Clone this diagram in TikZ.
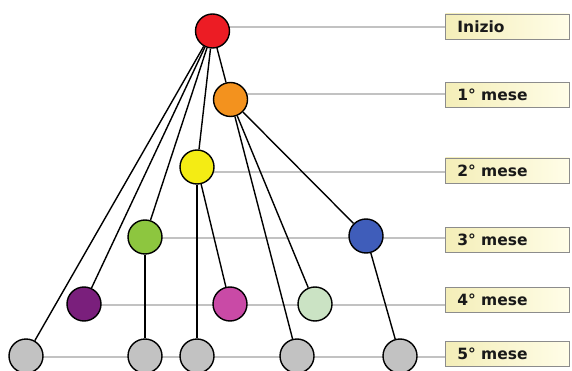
\documentclass[tikz,border=0pt]{standalone}
\usepackage{fontspec}
\newfontfamily\labfont{DejaVu Sans}
\pgfdeclarelayer{bg}
\pgfsetlayers{bg,main}
\definecolor{cRed}{HTML}{EC1C24}
\definecolor{cOrange}{HTML}{F3921E}
\definecolor{cYellow}{HTML}{F4EC14}
\definecolor{cGreen}{HTML}{8DC63F}
\definecolor{cBlue}{HTML}{3F5DBA}
\definecolor{cPurple}{HTML}{7A1F7C}
\definecolor{cMagenta}{HTML}{C94AA6}
\definecolor{cLight}{HTML}{CBE3C4}
\definecolor{cGrey}{HTML}{C2C2C2}
\definecolor{boxL}{HTML}{F4EEB8}
\definecolor{boxR}{HTML}{FFFDE8}
\tikzset{
  dot/.style={circle,draw=black,line width=1.4pt,minimum size=34pt,inner sep=0pt},
  edge/.style={draw=black,line width=1.4pt},
  level/.style={draw=black!24,line width=1.1pt},
  lab/.style={rectangle,draw=black!45,line width=0.9pt,left color=boxL,right color=boxR,
    anchor=west,minimum width=124pt,minimum height=25pt,text width=100pt,inner xsep=12pt,
    inner ysep=0pt,align=left,font=\labfont\bfseries\fontsize{15.5}{17}\selectfont,text=black!90}
}
\begin{document}
\begin{tikzpicture}[x=1pt,y=-1pt]
\useasboundingbox (0,0) rectangle (572,371);
% nodes
\node[dot,fill=cRed] (r) at (212.5,31) {};
\node[dot,fill=cOrange] (o) at (230.5,99.5) {};
\node[dot,fill=cYellow] (y) at (197,167) {};
\node[dot,fill=cGreen] (g) at (145,237) {};
\node[dot,fill=cBlue] (b) at (366,236) {};
\node[dot,fill=cPurple] (p) at (84,304) {};
\node[dot,fill=cMagenta] (m) at (230,304) {};
\node[dot,fill=cLight] (lg) at (315,304) {};
\node[dot,fill=cGrey] (s1) at (26,356) {};
\node[dot,fill=cGrey] (s2) at (145,356) {};
\node[dot,fill=cGrey] (s3) at (197,356) {};
\node[dot,fill=cGrey] (s4) at (297,356) {};
\node[dot,fill=cGrey] (s5) at (400,356) {};
% labels
\node[lab] (l0) at (445,26.5) {Inizio};
\node[lab] (l1) at (445,95) {1° mese};
\node[lab] (l2) at (445,170.5) {2° mese};
\node[lab] (l3) at (445,240) {3° mese};
\node[lab] (l4) at (445,300) {4° mese};
\node[lab] (l5) at (445,353.5) {5° mese};
% level line anchors
\coordinate (h0) at (445,27);
\coordinate (h1) at (445,94);
\coordinate (h2) at (445,172);
\coordinate (h3) at (445,238);
\coordinate (h4) at (445,305);
\coordinate (h5) at (445,357);
\begin{pgfonlayer}{bg}
\draw[level] (h0) -- (h0 -| r);
\draw[level] (h1) -- (h1 -| o);
\draw[level] (h2) -- (h2 -| y);
\draw[level] (h3) -- (h3 -| g);
\draw[level] (h4) -- (h4 -| p);
\draw[level] (h5) -- (h5 -| s1);
\end{pgfonlayer}
% connectors
\draw[edge] (r) -- (o);
\draw[edge] (r) -- (y);
\draw[edge] (r) -- (g);
\draw[edge] (r) -- (p);
\draw[edge] (r) -- (s1);
\draw[edge] (y) -- (m);
\draw[edge] (y) -- (s3);
\draw[edge] (g) -- (s2);
\draw[edge] (o) -- (lg);
\draw[edge] (o) -- (s4);
\draw[edge] (o) -- (b);
\draw[edge] (b) -- (s5);
\end{tikzpicture}
\end{document}
